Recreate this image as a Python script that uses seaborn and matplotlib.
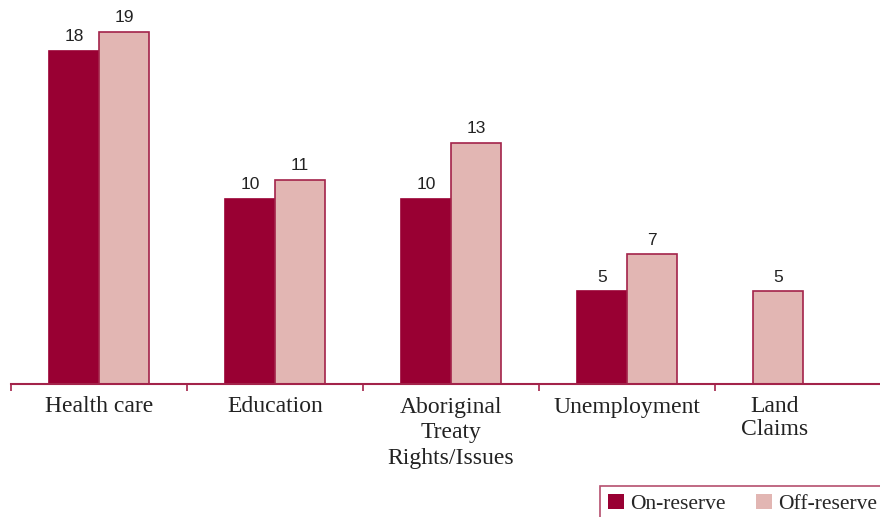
import matplotlib
matplotlib.use("Agg")
import matplotlib.pyplot as plt
import seaborn as sns
import pandas as pd
import numpy as np

# Survey data: share of respondents naming each issue as a priority
categories = ["Health care", "Education", "Aboriginal\nTreaty\nRights/Issues",
              "Unemployment", "Land\nClaims"]
on_reserve = [18, 10, 10, 5, np.nan]
off_reserve = [19, 11, 13, 7, 5]
series = ["On-reserve", "Off-reserve"]

ON_COLOR = "#990033"
OFF_COLOR = "#e2b6b3"
LINE_COLOR = "#a3234a"

df = pd.DataFrame({
    "issue": categories * 2,
    "group": [series[0]] * len(categories) + [series[1]] * len(categories),
    "value": on_reserve + off_reserve,
})

sns.set_style("white")
plt.rcParams["font.family"] = ["Liberation Serif", "DejaVu Serif"]

fig = plt.figure(figsize=(8.8, 5.17), dpi=100)
ax = fig.add_axes([11 / 880, 133 / 517, 1.0, 384 / 517])

sns.barplot(data=df, x="issue", y="value", hue="group", order=categories,
            hue_order=series, palette=[ON_COLOR, OFF_COLOR], saturation=1,
            width=0.57, edgecolor=LINE_COLOR, linewidth=1.2, errorbar=None,
            ax=ax, legend=True)

# The single Land Claims bar sits in the first slot of its group
last_bar = ax.containers[1].patches[-1]
last_bar.set_x(last_bar.get_x() - last_bar.get_width())
for bar in ax.containers[0].patches:
    bar.set_edgecolor(ON_COLOR)

for cont in ax.containers:
    vals = [p.get_height() for p in cont.patches]
    ax.bar_label(cont, labels=[f"{v:g}" if np.isfinite(v) else "" for v in vals],
                 padding=5, fontsize=12.5,
                 family=["Liberation Sans Narrow", "Liberation Sans", "DejaVu Sans"],
                 color="#222222")

ax.set_xlim(-0.5, 4.5)
ax.set_ylim(0, 20.75)
ax.set_xlabel("")
ax.set_ylabel("")
ax.set_yticks([])

label_pos = [0, 1, 2, 3, 3.84]
ax.set_xticks(label_pos)
ax.set_xticklabels(categories, fontsize=17, color="#222222", linespacing=1.12)
ax.get_xticklabels()[2].set_linespacing(1.3)
ax.set_xticks(np.arange(-0.5, 4, 1.0), minor=True)
ax.tick_params(axis="x", which="major", length=0, pad=9)
ax.tick_params(axis="x", which="minor", length=5, width=1.2, color=LINE_COLOR,
               direction="out", bottom=True)

for side in ["top", "right", "left"]:
    ax.spines[side].set_visible(False)
ax.spines["bottom"].set_color(LINE_COLOR)
ax.spines["bottom"].set_linewidth(1.5)

handles, labels = ax.get_legend_handles_labels()
ax.legend_.remove()
leg = fig.legend(handles, labels, loc="upper left", bbox_to_anchor=(600 / 880, 1 - 486 / 517),
                 ncol=2, fontsize=15.5, frameon=True, fancybox=False,
                 handlelength=0.75, handleheight=0.75, handletextpad=0.3,
                 columnspacing=1.4, borderpad=0.35, borderaxespad=0)
leg.get_frame().set_edgecolor(LINE_COLOR)
leg.get_frame().set_linewidth(1.2)
for h in leg.legend_handles:
    h.set_edgecolor("none")

fig.savefig("out.png", dpi=100)
